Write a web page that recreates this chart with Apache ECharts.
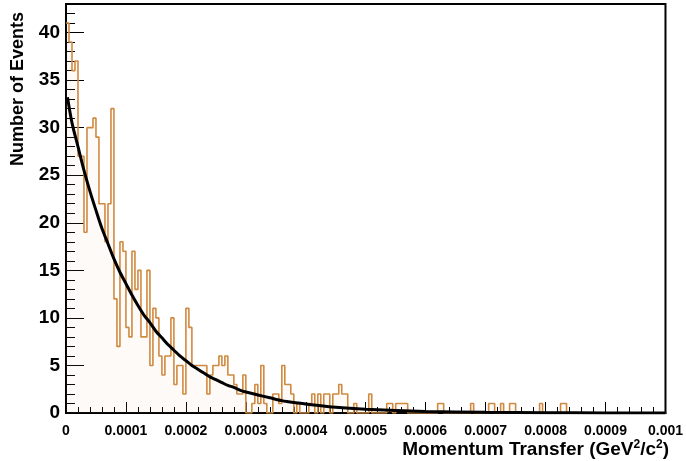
<!DOCTYPE html>
<html>
<head>
<meta charset="utf-8">
<script src="https://cdn.jsdelivr.net/npm/echarts@6/dist/echarts.min.js"></script>
<style>
  html, body { margin: 0; padding: 0; background: #fff; }
  #chart { width: 686px; height: 461px; }
</style>
</head>
<body>
<div id="chart"></div>
<script>
// Histogram definition: 200 bins of width 5e-6 GeV^2/c^2 from 0 to 0.001
const binStart = 0;
const binWidth = 0.000005;

// Events per bin
const binCounts = [
  41, 39, 36, 37, 27, 27, 19, 30, 30, 31,
  29, 22, 22, 18, 22, 32, 12, 7, 18, 17,
  9, 8, 17, 13, 15, 8, 8, 15, 5, 11,
  10, 6, 4, 6, 6, 10, 3, 5, 5, 2,
  11, 9, 5, 5, 5, 5, 5, 2, 4, 5,
  5, 6, 5, 6, 4, 4, 3, 2, 2, 4,
  0, 0, 1, 3, 1, 5, 1, 0, 0, 2,
  2, 1, 5, 3, 3, 2, 0, 1, 0, 0,
  0, 1, 2, 0, 2, 0, 2, 2, 0, 2,
  2, 3, 2, 2, 0, 0, 1, 0, 0, 0,
  0, 2, 0, 0, 0, 0, 0, 1, 1, 0,
  1, 1, 1, 1, 0, 0, 0, 0, 0, 0,
  0, 0, 0, 0, 1, 1, 0, 0, 0, 0,
  0, 0, 0, 0, 0, 1, 0, 0, 0, 0,
  0, 1, 1, 0, 0, 1, 0, 0, 1, 1,
  0, 0, 0, 0, 0, 0, 0, 0, 1, 0,
  0, 0, 0, 0, 0, 1, 1, 0, 0, 0,
  0, 0, 0, 0, 0, 0, 0, 0, 0, 0,
  0, 0, 0, 0, 0, 0, 0, 0, 0, 0,
  0, 0, 0, 0, 0, 0, 0, 0, 0, 0
];

// Exponential fit, sampled along the curve
const fitX = [
  0.0000025, 0.00001, 0.00002, 0.00003, 0.00004, 0.00005, 0.00006, 0.00007, 0.00008, 0.00009,
  0.0001, 0.00011, 0.00012, 0.00013, 0.00014, 0.00015, 0.00016, 0.00017, 0.00018, 0.00019,
  0.0002, 0.00021, 0.00022, 0.00023, 0.00024, 0.00025, 0.00026, 0.00027, 0.00028, 0.00029,
  0.0003, 0.00032, 0.00034, 0.00036, 0.00038, 0.0004, 0.00045, 0.0005,
  0.0006, 0.0007, 0.0008, 0.0009, 0.001
];
const fitY = [
  33.2, 30.5, 28.0, 25.5, 23.3, 21.3, 19.4, 17.8, 16.2, 14.8,
  13.6, 12.4, 11.3, 10.3, 9.5, 8.6, 7.9, 7.2, 6.6, 6.0,
  5.5, 5.0, 4.6, 4.2, 3.8, 3.5, 3.2, 2.9, 2.7, 2.4,
  2.2, 1.9, 1.6, 1.3, 1.1, 0.95, 0.6, 0.4,
  0.17, 0.07, 0.03, 0.01, 0.0
];

// Axis tick labels
const xTickLabels = ['0', '0.0001', '0.0002', '0.0003', '0.0004', '0.0005',
  '0.0006', '0.0007', '0.0008', '0.0009', '0.001'];
const yTickLabels = ['0', '5', '10', '15', '20', '25', '30', '35', '40'];

const xMax = 0.001;
const xStep = 0.0001;
const yMax = 43;

// Step outline: each point sits on a bin's left edge, closing at the last right edge
const histData = binCounts.map((c, i) => [binStart + i * binWidth, c]);
histData.push([binStart + binCounts.length * binWidth, binCounts[binCounts.length - 1]]);

const fitData = fitX.map((x, i) => [x, fitY[i]]);

const FONT = '"Liberation Sans", Arial, Helvetica, sans-serif';
const chart = echarts.init(document.getElementById('chart'), null, { renderer: 'canvas' });

chart.setOption({
  animation: false,
  backgroundColor: '#ffffff',
  grid: {
    left: 66, top: 4, width: 605, height: 409,
    show: true, borderColor: '#000', borderWidth: 2, backgroundColor: 'transparent'
  },
  xAxis: {
    type: 'value',
    min: 0, max: xMax, interval: xStep,
    axisLine: { show: true, lineStyle: { color: '#000', width: 2 } },
    axisTick: { show: true, inside: true, length: 11, lineStyle: { color: '#000', width: 1 } },
    minorTick: { show: true, splitNumber: 5, length: 6, lineStyle: { color: '#000', width: 1 } },
    splitLine: { show: false },
    axisLabel: {
      show: true, margin: 11, color: '#000', fontFamily: FONT, fontWeight: 'bold', fontSize: 14,
      showMinLabel: true, showMaxLabel: true,
      formatter: v => xTickLabels[Math.round(v / xStep)] ?? ''
    }
  },
  yAxis: [
    {
      // minor ticks every event, labels every 5
      type: 'value', position: 'left',
      min: 0, max: yMax, interval: 1,
      axisLine: { show: true, lineStyle: { color: '#000', width: 2 } },
      axisTick: { show: true, inside: true, length: 9, lineStyle: { color: '#000', width: 1 } },
      splitLine: { show: false },
      axisLabel: {
        show: true, margin: 6, color: '#000', fontFamily: FONT, fontWeight: 'bold', fontSize: 19,
        formatter: v => (v % 5 === 0 && v / 5 < yTickLabels.length) ? yTickLabels[v / 5] : ''
      }
    },
    {
      // major ticks every 5 events
      type: 'value', position: 'left',
      min: 0, max: yMax, interval: 5,
      axisLine: { show: false },
      axisTick: { show: true, inside: true, length: 18, lineStyle: { color: '#000', width: 1 } },
      splitLine: { show: false },
      axisLabel: { show: false }
    }
  ],
  series: [
    {
      name: 'Events',
      type: 'line',
      step: 'end',
      data: histData,
      symbol: 'none',
      yAxisIndex: 0,
      lineStyle: { color: '#d08a40', width: 1.6 },
      areaStyle: { color: 'rgba(225, 180, 140, 0.09)' },
      z: 2
    },
    {
      name: 'Fit',
      type: 'line',
      data: fitData,
      smooth: 0.3,
      symbol: 'none',
      yAxisIndex: 0,
      lineStyle: { color: '#000', width: 3 },
      z: 3
    }
  ],
  graphic: [
    {
      type: 'text',
      x: 18, y: 89,
      rotation: Math.PI / 2,
      style: {
        text: 'Number of Events',
        font: 'bold 18px ' + FONT,
        fill: '#000',
        align: 'center', verticalAlign: 'middle',
        textAlign: 'center', textVerticalAlign: 'middle'
      }
    },
    {
      type: 'text',
      x: 669, y: 450,
      style: {
        text: '{a|Momentum Transfer (GeV}{s|2}{a|/c}{s|2}{a|)}',
        fill: '#000',
        align: 'right', verticalAlign: 'middle',
        textAlign: 'right', textVerticalAlign: 'middle',
        rich: {
          a: { fontFamily: FONT, fontWeight: 'bold', fontSize: 19, lineHeight: 22, fill: '#000', color: '#000' },
          s: { fontFamily: FONT, fontWeight: 'bold', fontSize: 12, lineHeight: 22, verticalAlign: 'top', fill: '#000', color: '#000' }
        }
      }
    }
  ]
});
</script>
</body>
</html>
